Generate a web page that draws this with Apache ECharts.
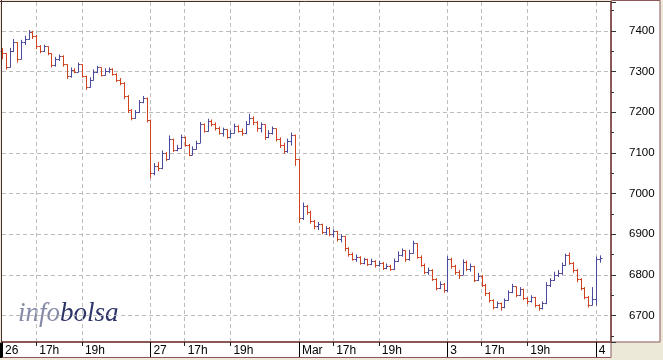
<!DOCTYPE html>
<html><head><meta charset="utf-8">
<script src="https://cdn.jsdelivr.net/npm/echarts@6/dist/echarts.min.js"></script>
<style>html,body{margin:0;padding:0;background:#ECE9D8;} #c{width:663px;height:360px;}</style>
</head><body><div id="c"></div>
<script>
// ---- data (10-minute bars, 39 per session) ----
const firstOpen = 7350;
const close26 = [7345,7312,7350,7372,7330,7372,7380,7398,7388,7362,7350,7362,7345,7315,7332,7338,7318,7288,7305,7300,7318,7290,7262,7280,7300,7310,7292,7302,7306,7295,7280,7272,7240,7205,7186,7200,7225,7235,7182];
const high26  = [7358,7335,7358,7380,7372,7378,7388,7402,7400,7390,7365,7366,7362,7345,7336,7342,7340,7318,7310,7308,7322,7318,7290,7286,7305,7314,7310,7308,7310,7308,7296,7284,7274,7242,7208,7205,7230,7240,7236];
const low26   = [7330,7305,7310,7348,7322,7330,7365,7378,7380,7355,7345,7348,7340,7310,7312,7326,7312,7282,7285,7296,7298,7285,7255,7260,7278,7296,7288,7290,7296,7290,7274,7266,7232,7198,7180,7184,7198,7222,7175];

const close27 = [7050,7068,7062,7100,7085,7135,7108,7112,7140,7120,7096,7110,7125,7170,7155,7178,7170,7162,7150,7158,7140,7150,7165,7155,7148,7172,7185,7175,7160,7170,7140,7150,7160,7135,7120,7105,7130,7145,7085];
const high27  = [7182,7075,7078,7106,7102,7143,7135,7120,7145,7140,7122,7116,7130,7176,7172,7184,7182,7175,7165,7162,7158,7156,7172,7168,7160,7178,7196,7190,7178,7175,7170,7156,7165,7160,7138,7125,7135,7150,7145];
const low27   = [7038,7045,7055,7060,7080,7084,7102,7104,7110,7115,7092,7094,7108,7124,7150,7152,7165,7155,7145,7140,7135,7138,7148,7150,7142,7146,7170,7168,7152,7150,7132,7136,7145,7128,7112,7098,7100,7118,7068];

const closeMar = [6940,6970,6955,6932,6920,6925,6905,6915,6900,6908,6888,6895,6865,6852,6840,6845,6830,6838,6828,6835,6825,6830,6818,6822,6815,6835,6850,6860,6838,6855,6878,6845,6825,6808,6812,6790,6768,6778,6762];
const highMar  = [7085,6978,6972,6958,6935,6930,6926,6920,6918,6912,6908,6900,6895,6868,6855,6850,6846,6842,6840,6840,6836,6835,6832,6828,6825,6840,6858,6865,6860,6862,6884,6878,6848,6828,6818,6814,6792,6784,6780];
const lowMar   = [6928,6935,6948,6926,6912,6910,6900,6898,6895,6892,6882,6880,6858,6845,6835,6832,6825,6826,6822,6824,6818,6820,6812,6814,6810,6812,6832,6845,6832,6835,6852,6840,6820,6802,6800,6785,6762,6765,6756];

const close3 = [6840,6822,6808,6800,6832,6815,6822,6788,6798,6775,6755,6738,6722,6730,6720,6738,6758,6772,6750,6765,6742,6735,6745,6725,6718,6730,6775,6788,6800,6805,6825,6848,6830,6812,6790,6768,6745,6725,6740];
const high3  = [6846,6842,6825,6812,6838,6835,6828,6822,6805,6800,6778,6758,6740,6735,6732,6742,6762,6778,6772,6770,6766,6745,6750,6746,6728,6735,6782,6792,6808,6812,6830,6852,6855,6832,6815,6792,6770,6748,6770];
const low3   = [6758,6815,6800,6790,6800,6810,6808,6782,6785,6770,6748,6732,6715,6718,6712,6718,6736,6755,6745,6748,6738,6728,6732,6720,6712,6715,6728,6770,6785,6795,6800,6822,6825,6805,6782,6762,6740,6720,6728];

const close4 = [6838,6842];
const high4  = [6845,6848];
const low4   = [6725,6830];

const tickLabels = ['26','17h','19h','27','17h','19h','Mar','17h','19h','3','17h','19h','4'];
const tickSlots  = [0,9,21,39,48,60,78,87,99,117,126,138,156];
const daySlots   = [0,39,78,117,156];
const barsPerDay = 39;
const totalSlots = 161;

const yMin = 6635, yMax = 7471;

// ---- build ----
const days = [
  [close26, high26, low26],
  [close27, high27, low27],
  [closeMar, highMar, lowMar],
  [close3, high3, low3],
  [close4, high4, low4]
];
const ohlc = [];
let prev = firstOpen;
days.forEach((d, di) => {
  d[0].forEach((c, k) => {
    ohlc.push([di * barsPerDay + k, prev, c, d[2][k], d[1][k]]);
    prev = c;
  });
});
const cats = [];
for (let i = 0; i < totalSlots; i++) cats.push('s' + i);
const labelAt = {};
tickSlots.forEach((s, i) => { labelAt[s] = tickLabels[i]; });
const daySet = new Set(daySlots);

const UP = '#4c4a9e', DOWN = '#d0431e';
const BROWN = '#8b5757';
const GRIDC = '#bdbdbd';

const chart = echarts.init(document.getElementById('c'), null, {renderer: 'canvas'});
chart.setOption({
  animation: false,
  backgroundColor: 'transparent',
  grid: {left: 2, right: 52, top: 2, bottom: 18, show: false},
  graphic: [
    {type: 'rect', z: -10, shape: {x: 2, y: 2, width: 609, height: 340}, style: {fill: '#fff'}},
    {type: 'rect', z: -10, shape: {x: 611.5, y: 0.5, width: 48.5, height: 341.5}, style: {fill: '#fff', stroke: BROWN, lineWidth: 1}},
    {type: 'rect', z: -10, shape: {x: 0.5, y: 342.5, width: 610.5, height: 15}, style: {fill: '#fff', stroke: BROWN, lineWidth: 1}},
    {type: 'rect', z: -9, shape: {x: 0, y: 343, width: 2, height: 15}, style: {fill: '#000'}},
    {type: 'text', z: -9, x: 18, y: 314, style: {
      text: '{a|info}{b|bolsa}', verticalAlign: 'middle',
      rich: {
        a: {fill: '#858aa6', font: 'italic 27px "Liberation Serif"'},
        b: {fill: '#2c3468', font: 'italic 27px "Liberation Serif"'}
      }
    }},
    {type: 'line', z: 20, shape: {x1: 0, y1: 1.5, x2: 611, y2: 1.5}, style: {stroke: '#4a2c2c', lineWidth: 1}},
    {type: 'line', z: 20, shape: {x1: 1.5, y1: 0, x2: 1.5, y2: 342}, style: {stroke: '#4a2c2c', lineWidth: 1}}
  ],
  xAxis: [
    {
      type: 'category', data: cats, boundaryGap: false, position: 'bottom', gridIndex: 0,
      axisLine: {show: true, lineStyle: {color: BROWN, width: 2}},
      axisTick: {show: true, interval: (i) => labelAt[i] !== undefined && !daySet.has(i), length: 4, lineStyle: {color: '#222'}},
      axisLabel: {
        interval: (i) => labelAt[i] !== undefined,
        formatter: (v, i) => labelAt[i] || '',
        align: 'left', padding: [0, 0, 0, 3], margin: 3,
        color: '#000', fontSize: 12, fontFamily: 'Liberation Sans'
      },
      splitLine: {show: true, interval: (i) => labelAt[i] !== undefined && i > 0, lineStyle: {type: [4, 3], color: GRIDC, width: 1}}
    },
    {
      type: 'category', data: cats, boundaryGap: false, position: 'bottom', gridIndex: 0, offset: 0,
      axisLine: {show: false},
      axisTick: {show: true, interval: (i) => daySet.has(i), length: 15, lineStyle: {color: '#000'}},
      axisLabel: {show: false},
      splitLine: {show: false}
    }
  ],
  yAxis: [
    {
      type: 'value', position: 'right', min: yMin, max: yMax, splitNumber: 8,
      axisLine: {show: true, lineStyle: {color: BROWN, width: 2}},
      axisTick: {show: true, length: 5, lineStyle: {color: '#333'}},
      axisLabel: {formatter: (v) => (v % 100 === 0 ? String(v) : ''), margin: 18, color: '#000', fontSize: 11.5, fontFamily: 'Liberation Sans'},
      splitLine: {show: true, showMinLine: false, showMaxLine: false, lineStyle: {type: [4, 3], color: GRIDC, width: 1}}
    },
    {
      type: 'value', position: 'right', min: yMin, max: yMax, splitNumber: 16, offset: 0,
      axisLine: {show: false},
      axisTick: {show: true, length: 3, lineStyle: {color: '#333'}},
      axisLabel: {show: false},
      splitLine: {show: false}
    }
  ],
  series: [{
    type: 'custom', xAxisIndex: 0, yAxisIndex: 0,
    data: ohlc,
    encode: {x: 0, y: [1, 2, 3, 4]},
    renderItem: function (params, api) {
      const idx = api.value(0);
      const o = api.value(1), c = api.value(2), l = api.value(3), h = api.value(4);
      const top = Math.max(h, o, c), bot = Math.min(l, o, c);
      const pT = api.coord([idx, top]), pB = api.coord([idx, bot]);
      const pO = api.coord([idx, o]), pC = api.coord([idx, c]);
      const x = Math.round(pT[0]) + 0.5;
      const color = c >= o ? UP : DOWN;
      const yo = Math.round(pO[1]) + 0.5, yc = Math.round(pC[1]) + 0.5;
      return {type: 'group', children: [
        {type: 'line', shape: {x1: x, y1: pT[1], x2: x, y2: pB[1]}, style: {stroke: color, lineWidth: 1}},
        {type: 'line', shape: {x1: x - 2, y1: yo, x2: x, y2: yo}, style: {stroke: color, lineWidth: 1}},
        {type: 'line', shape: {x1: x, y1: yc, x2: x + 2, y2: yc}, style: {stroke: color, lineWidth: 1}}
      ]};
    }
  }]
});
</script>
</body></html>
